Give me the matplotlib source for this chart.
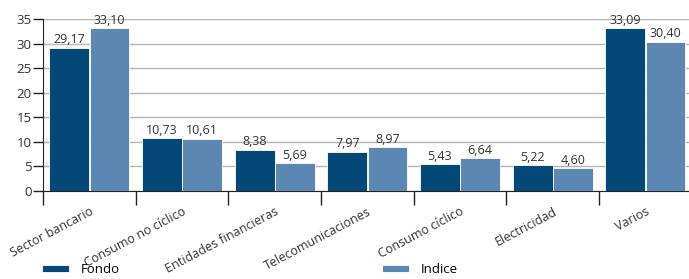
import matplotlib.pyplot as plt
import numpy as np

categorias = ["Sector bancario", "Consumo no cíclico", "Entidades financieras",
              "Telecomunicaciones", "Consumo cíclico", "Electricidad", "Varios"]
fondo = [29.17, 10.73, 8.38, 7.97, 5.43, 5.22, 33.09]
indice = [33.10, 10.61, 5.69, 8.97, 6.64, 4.60, 30.40]

c_fondo = "#034877"
c_indice = "#5c87b2"

plt.rcParams['font.family'] = ['Open Sans', 'DejaVu Sans']
plt.rcParams['font.size'] = 9

fig = plt.figure(figsize=(6.89, 2.79), dpi=100)
ax = fig.add_axes([43 / 689, 1 - 191 / 279, 646 / 689, (191 - 19) / 279])

x = np.arange(len(categorias))
w = 0.43
b1 = ax.bar(x - w / 2 - 0.002, fondo, w, color=c_fondo, edgecolor="white", linewidth=0.6, label="Fondo", zorder=3)
b2 = ax.bar(x + w / 2 + 0.002, indice, w, color=c_indice, edgecolor="white", linewidth=0.6, label="Indice", zorder=3)

fmt = lambda v: f"{v:.2f}".replace(".", ",")
ax.bar_label(b1, labels=[fmt(v) for v in fondo], padding=1, color="#333333", fontsize=9)
ax.bar_label(b2, labels=[fmt(v) for v in indice], padding=1, color="#333333", fontsize=9)

ax.set_ylim(0, 35)
ax.set_xlim(-0.5, 6.47)
ax.set_yticks(range(0, 36, 5))
ax.yaxis.grid(True, color="#b5b5b5", linewidth=1, zorder=0)
ax.set_axisbelow(True)

ax.set_xticks(np.arange(-0.5, 6.5, 1))
ax.set_xticklabels([])
ax.set_xticks(x, minor=True)
ax.set_xticklabels(categorias, minor=True, rotation=28, ha="right", rotation_mode="anchor")
ax.tick_params(axis="x", which="major", length=10, width=1, color="#222222", direction="out")
ax.tick_params(axis="x", which="minor", length=0, pad=10, labelcolor="#333333")
ax.tick_params(axis="y", length=7, width=1, color="#222222", labelcolor="#333333", pad=1, labelsize=9.5)

for s in ["top", "right"]:
    ax.spines[s].set_visible(False)
ax.spines["left"].set_color("#222222")
ax.spines["bottom"].set_color("#222222")

fig.legend(handles=[b1, b2], labels=["Fondo", "Indice"], ncol=2, loc="upper left",
           bbox_to_anchor=(41 / 689, 1 - 262 / 279), frameon=False,
           handlelength=2.0, handleheight=0.45, columnspacing=19.9, handletextpad=0.9,
           fontsize=9.5, borderaxespad=0, borderpad=0.1)

fig.savefig("out.png", dpi=100)
